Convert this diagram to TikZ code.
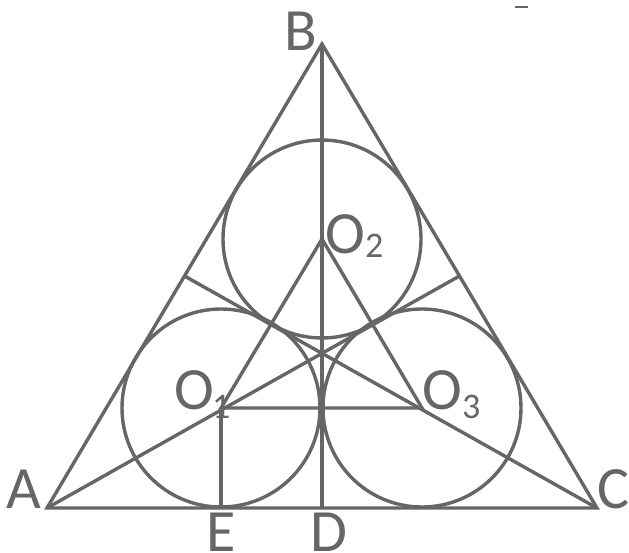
\documentclass[tikz,border=0pt]{standalone}
\usepackage{fontspec}
\setmainfont{Carlito}
\usetikzlibrary{calc}
\definecolor{geo}{RGB}{102,102,102}
\tikzset{
  edge/.style={draw=geo,line width=1.7pt},
  lbl/.style={text=geo,inner sep=0pt,anchor=base,font=\fontsize{30}{30}\selectfont},
}
\newcommand{\sub}[2][-4.5pt]{\raisebox{#1}{\fontsize{18}{18}\selectfont #2}}
\begin{document}
\begin{tikzpicture}[x=0.5pt,y=-0.5pt]
    \useasboundingbox (0,0) rectangle (629,553);
    % points
    \coordinate (A) at (47,508);
    \coordinate (B) at (322,44);
    \coordinate (C) at (597,508);
    \coordinate (D) at (322,508);
    \coordinate (E) at (221,508);
    \coordinate (O1) at (221,408);
    \coordinate (O2) at (322,239);
    \coordinate (O3) at (422,408);
    \coordinate (M) at ($(B)!0.5!(C)$);
    \coordinate (N) at ($(A)!0.5!(B)$);
    % triangle and lines
    \draw[edge] (A) -- (B) -- (C) -- cycle;
    \draw[edge] (B) -- (D);
    \draw[edge] (A) -- (M);
    \draw[edge] (C) -- (N);
    \draw[edge] (O1) -- (O2) -- (O3) -- cycle;
    \draw[edge] (O1) -- (E);
    % circles
    \foreach \c in {O1,O2,O3}
        \draw[edge] (\c) circle[radius=49.5pt];
    % labels
    \node[lbl] (lA) at (24,508) {A};
    \node[lbl] (lB) at (301,50) {B};
    \node[lbl] (lC) at (613,508) {C};
    \node[lbl] (lD) at (329,551) {D};
    \node[lbl] (lE) at (221,551) {E};
    \node[lbl,anchor=base west] (lO1) at (174,409) {O\kern-1pt\sub{1}};
    \node[lbl,anchor=base west] (lO2) at (325,253) {O\sub[-2pt]{2}};
    \node[lbl,anchor=base west] (lO3) at (422,409) {O\sub{3}};
    % stray mark
    \draw[geo,line width=0.8pt] (515,7) -- (528,7);
\end{tikzpicture}
\end{document}
